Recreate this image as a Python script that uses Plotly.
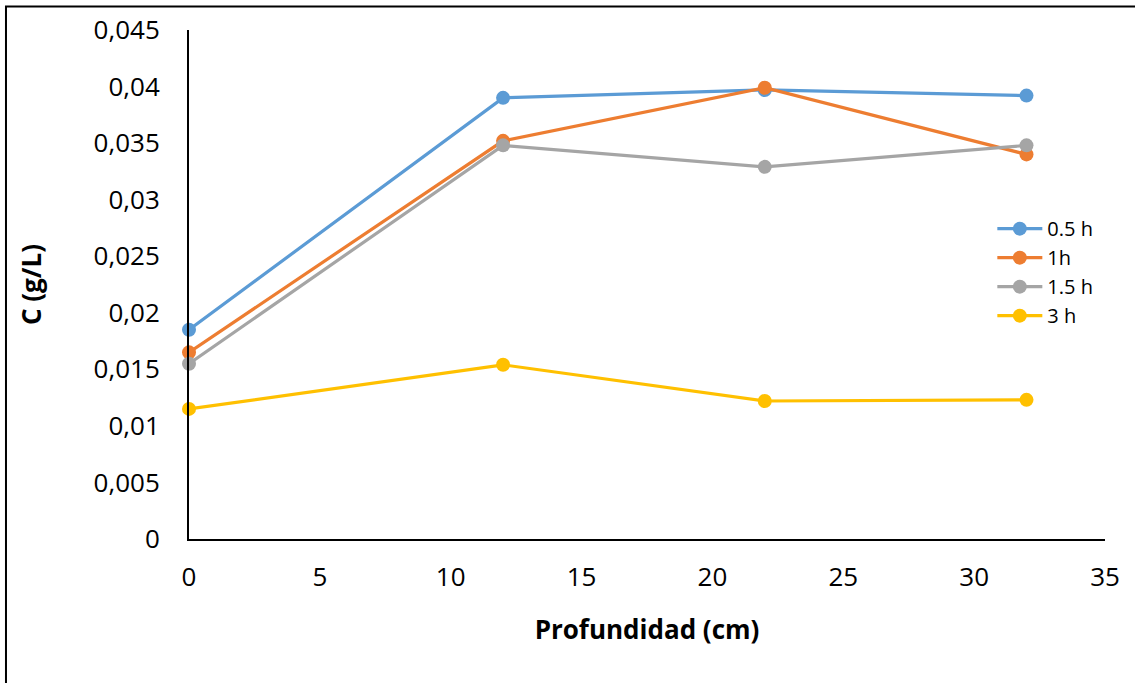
import plotly.graph_objects as go

# Depth (cm) at which each sample was taken
profundidad = [0, 12, 22, 32]

# Concentration (g/L) for each exposure time
c_05h = [0.0185, 0.0390, 0.0397, 0.0392]
c_1h = [0.0165, 0.0352, 0.0399, 0.0340]
c_15h = [0.0155, 0.0348, 0.0329, 0.0348]
c_3h = [0.0115, 0.0154, 0.0122, 0.0123]

series_names = ["0.5 h", "1h", "1.5 h", "3 h"]
series_values = [c_05h, c_1h, c_15h, c_3h]
series_colors = ["#5B9BD5", "#ED7D31", "#A5A5A5", "#FFC000"]

y_ticks = [0, 0.005, 0.01, 0.015, 0.02, 0.025, 0.03, 0.035, 0.04, 0.045]
y_labels = ["0", "0,005", "0,01", "0,015", "0,02", "0,025", "0,03", "0,035", "0,04", "0,045"]
x_ticks = [0, 5, 10, 15, 20, 25, 30, 35]

FONT = "Open Sans"

fig = go.Figure()
for name, vals, col in zip(series_names, series_values, series_colors):
    fig.add_trace(go.Scatter(
        x=profundidad, y=vals, name=name, mode="lines+markers",
        line=dict(color=col, width=3.2),
        marker=dict(color=col, size=14),
        cliponaxis=False,
    ))

fig.update_layout(
    width=1135, height=683,
    margin=dict(l=189, r=30, t=30, b=144),
    paper_bgcolor="white", plot_bgcolor="white",
    font=dict(family=FONT, color="black"),
    showlegend=True,
    legend=dict(
        x=0.877, y=0.648, xanchor="left", yanchor="top",
        font=dict(family=FONT, size=20, color="black"),
        bgcolor="rgba(0,0,0,0)", tracegroupgap=0, itemwidth=45,
    ),
    xaxis=dict(
        range=[0, 35], tickvals=x_ticks, ticks="", showgrid=False, zeroline=False,
        showline=True, linecolor="black", linewidth=2,
        tickfont=dict(family=FONT, size=26), ticklabelstandoff=14,
        title=dict(text="<b>Profundidad (cm)</b>", font=dict(family=FONT, size=26), standoff=28),
    ),
    yaxis=dict(
        range=[0, 0.045], tickvals=y_ticks, ticktext=y_labels, ticks="", showgrid=False,
        zeroline=False, showline=True, linecolor="black", linewidth=2,
        tickfont=dict(family=FONT, size=26), ticklabelstandoff=22,
        title=dict(text="<b>C (g/L)</b>", font=dict(family=FONT, size=26), standoff=44),
    ),
)

# Outer frame around the chart area (top and left edges visible)
fig.add_shape(
    type="rect", xref="paper", yref="paper",
    x0=-0.1998, x1=1.06, y0=-0.32, y1=1.046,
    line=dict(color="black", width=2), fillcolor="rgba(0,0,0,0)",
)

fig.write_html("out.html")
